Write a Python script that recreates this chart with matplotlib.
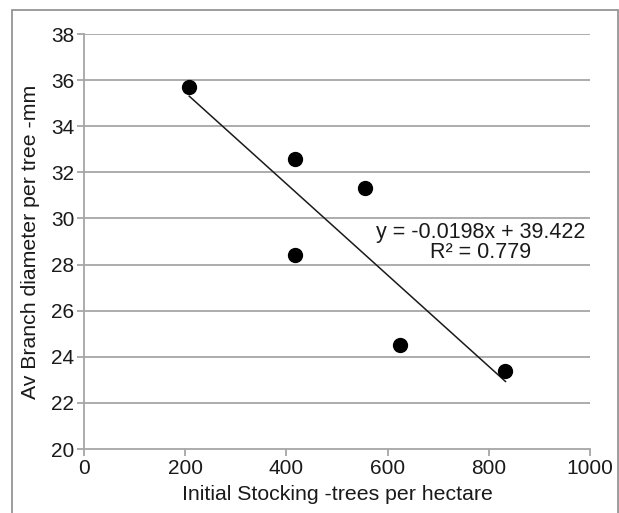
import matplotlib.pyplot as plt
from matplotlib.patches import Rectangle

plt.rcParams['font.family'] = ['Liberation Sans', 'DejaVu Sans']

stocking = [208, 417, 417, 556, 625, 833]
branch_diam = [35.7, 32.6, 28.4, 31.3, 24.5, 23.4]
slope = -0.0198
intercept = 39.422
r2 = 0.779

fig = plt.figure(figsize=(6.19, 5.13), dpi=100)
ax = fig.add_axes([84 / 619, 1 - 449 / 513, 506 / 619, 415 / 513])

# outer frame of the chart area
fig.patches.append(Rectangle((12 / 619, -0.05), 606 / 619, 1.05 - 10 / 513,
                             transform=fig.transFigure, fill=False,
                             edgecolor='#8c8c8c', lw=1.2))

grid_col = '#a6a6a6'
for yv in range(22, 39, 2):
    ax.axhline(yv, color=grid_col, lw=1.3, zorder=1)

# trendline over the data range
x0, x1 = min(stocking), max(stocking)
ax.plot([x0, x1], [slope * x0 + intercept, slope * x1 + intercept],
        color='#1a1a1a', lw=1.1, zorder=2)
ax.plot(stocking, branch_diam, 'o', color='black', markersize=10, zorder=3)

ax.text(783, 28.95, f'y = {slope}x + {intercept}\nR\u00b2 = {r2}',
        ha='center', va='center', fontsize=15.5, linespacing=0.95, color='#1a1a1a')

ax.set_xlim(0, 1000)
ax.set_ylim(20, 38)
ax.set_xticks(range(0, 1001, 200))
ax.set_yticks(range(20, 39, 2))
for s in ['top', 'right']:
    ax.spines[s].set_visible(False)
for s in ['left', 'bottom']:
    ax.spines[s].set_color(grid_col)
    ax.spines[s].set_linewidth(1.3)
ax.tick_params(direction='out', length=5, width=1.3, color=grid_col,
               labelsize=15, labelcolor='#1a1a1a', pad=2)

ax.set_xlabel('Initial Stocking -trees per hectare', fontsize=15.3,
              color='#1a1a1a', labelpad=5)
ax.set_ylabel('Av Branch diameter per tree -mm', fontsize=15.3,
              color='#1a1a1a', labelpad=8)

fig.savefig('out.png', dpi=100)
